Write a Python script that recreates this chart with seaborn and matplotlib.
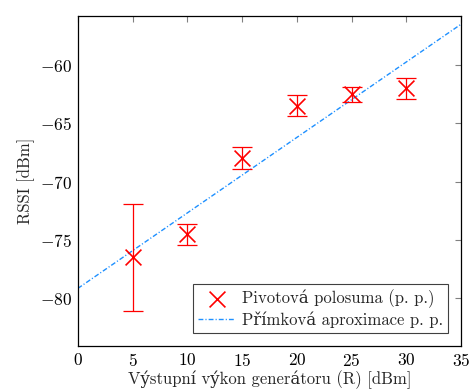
import matplotlib
matplotlib.use("Agg")
import matplotlib.pyplot as plt
import seaborn as sns
import pandas as pd

# data
power = [5, 10, 15, 20, 25, 30]
rssi = [-76.5, -74.5, -68.0, -63.5, -62.5, -62.0]
rssi_err = [4.6, 0.9, 0.95, 0.9, 0.65, 0.87]
line_x = [0, 35]
line_y = [-79.15, -56.5]
xticks = [0, 5, 10, 15, 20, 25, 30, 35]
yticks = [-80, -75, -70, -65, -60]
label_points = "Pivotová polosuma (p. p.)"
label_line = "Přímková aproximace p. p."

sns.set_theme(style="white")
plt.rcParams['font.family'] = ['cmr10', 'DejaVu Serif']
plt.rcParams['mathtext.fontset'] = 'cm'
plt.rcParams['axes.formatter.use_mathtext'] = True
plt.rcParams['axes.unicode_minus'] = True

fig = plt.figure(figsize=(4.69, 3.92), dpi=100)
ax = fig.add_axes([0.166, 0.117, 0.817, 0.842])

df_pts = pd.DataFrame({"x": power, "y": rssi})
df_line = pd.DataFrame({"x": line_x, "y": line_y})

ax.errorbar(power, rssi, yerr=rssi_err, fmt='none', ecolor='red',
            elinewidth=0.9, capsize=7, capthick=0.9, zorder=3)
sns.scatterplot(data=df_pts, x="x", y="y", ax=ax, marker='x', color='red',
                s=130, linewidth=1.2, label=label_points, zorder=4)
sns.lineplot(data=df_line, x="x", y="y", ax=ax, color='#1E90FF',
             linewidth=1.0, dashes=False, label=label_line, zorder=2)
ax.lines[-1].set_dashes([3.5, 1.5, 0.8, 1.5])

ax.set_xlim(0, 35)
ax.set_ylim(-84.1, -55.8)
ax.set_xticks(xticks)
ax.set_yticks(yticks)
ax.tick_params(direction='in', top=True, right=True, length=4, width=0.8,
               labelsize=12.5, colors='#808080', labelcolor='black', pad=4)
for s in ax.spines.values():
    s.set_color('black')
    s.set_linewidth(0.9)

ax.set_xlabel("Výstupní výkon generátoru (R) [dBm]", fontsize=12, labelpad=1)
ax.set_ylabel("RSSI [dBm]", fontsize=12, labelpad=4)

leg = ax.legend(loc='lower right', fontsize=12, frameon=True, fancybox=False,
                edgecolor='#404040', framealpha=1, borderpad=0.3,
                handlelength=2.2, handletextpad=0.4, labelspacing=0.2,
                borderaxespad=0.8)
leg.get_frame().set_linewidth(0.8)

fig.savefig("out.png", dpi=100)
